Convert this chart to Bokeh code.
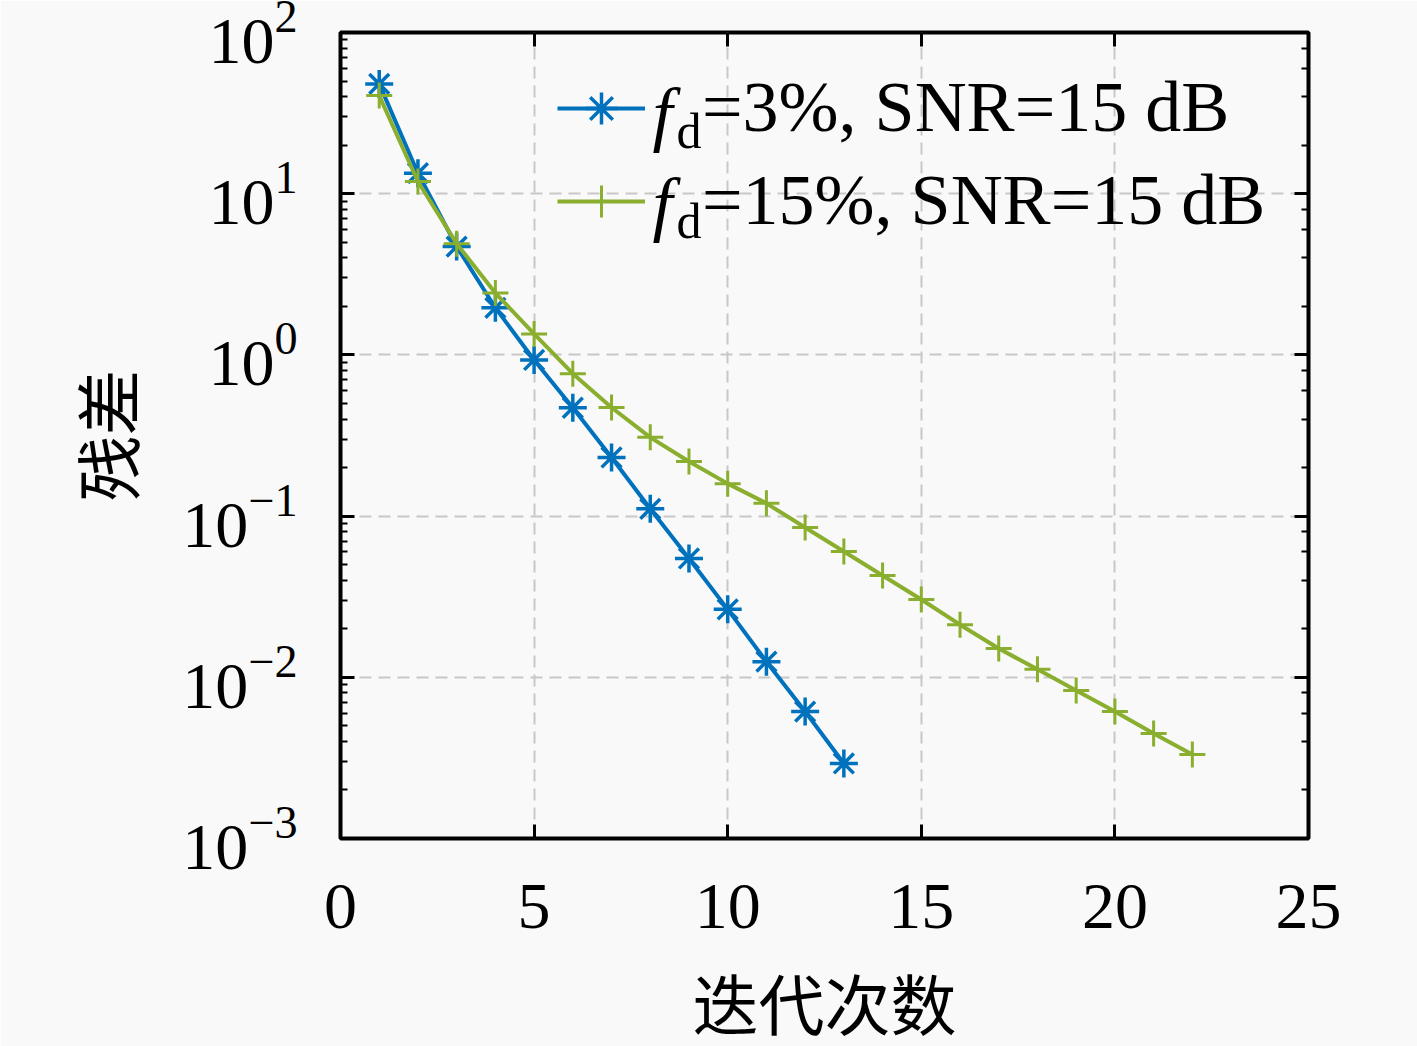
from bokeh.plotting import figure
from bokeh.models import (LogAxis, LinearAxis, FixedTicker, LogTicker, Legend,
                          LegendItem, Label, Range1d, CustomJSTickFormatter)
from bokeh.embed import file_html
from bokeh.resources import INLINE

# ---- data ----
iters_a = list(range(1, 14))
resid_a = [48.0, 13.4, 4.7, 1.96, 0.93, 0.47, 0.231, 0.111, 0.0546, 0.0264,
           0.0125, 0.00613, 0.00292]
iters_b = list(range(1, 23))
resid_b = [40.6, 11.9, 4.9, 2.42, 1.35, 0.765, 0.472, 0.308, 0.218, 0.159,
           0.120, 0.0849, 0.0603, 0.0428, 0.0304, 0.0212, 0.0151, 0.0112,
           0.00828, 0.00613, 0.00448, 0.00332]
x_ticks = [0, 5, 10, 15, 20, 25]
label_a = "=3%, SNR=15 dB"
label_b = "=15%, SNR=15 dB"
x_label = "迭代次数"
y_label = "残差"

BLUE = "#0072BD"
GREEN = "#8AAE2E"
BG = "#f9f9f9"
SERIF = "Liberation Serif"
CJK = "Noto Sans CJK SC"
CJK_STACK = "Liberation Serif, Noto Sans CJK SC"
FS = "66px"
LFS = "72px"

p = figure(width=1417, height=1046, x_range=Range1d(0, 25),
           y_range=Range1d(1e-3, 1e2), y_axis_type="log",
           output_backend="svg", toolbar_location=None,
           min_border_left=340, min_border_right=109,
           min_border_top=32, min_border_bottom=208)
p.background_fill_color = BG
p.border_fill_color = BG
p.outline_line_color = "black"
p.outline_line_width = 4

# grid
for g in (p.xgrid, p.ygrid):
    g.grid_line_color = "#c8c8c8"
    g.grid_line_width = 2
    g.grid_line_dash = "12 7"
p.xgrid.ticker = FixedTicker(ticks=x_ticks)

# bottom axis
xa = p.xaxis[0]
xa.ticker = FixedTicker(ticks=x_ticks)
xa.axis_label = x_label
xa.axis_label_text_font = CJK_STACK
xa.axis_label_text_font_size = FS
xa.axis_label_text_font_style = "normal"
xa.axis_label_standoff = 40
xa.major_label_text_font = SERIF
xa.major_label_text_font_size = FS
xa.major_label_standoff = 46

# left axis
ya = p.yaxis[0]
ya.axis_label = y_label
ya.axis_label_text_font = CJK
ya.axis_label_text_font_size = FS
ya.axis_label_text_font_style = "normal"
ya.axis_label_standoff = 26
ya.major_label_text_font = SERIF
ya.major_label_text_font_size = FS
ya.major_label_standoff = 43

for ax in (xa, ya):
    ax.axis_line_color = None
    ax.major_tick_in = 14
    ax.major_tick_out = 0
    ax.major_tick_line_width = 3
    ax.major_tick_line_color = "black"
    ax.minor_tick_in = 7
    ax.minor_tick_out = 0
    ax.minor_tick_line_width = 2
    ax.major_label_text_color = "black"
    ax.axis_label_text_color = "black"
xa.minor_tick_line_color = None

# mirrored axes (ticks only, no labels)
blank = CustomJSTickFormatter(code="return ''")
top = LinearAxis(ticker=FixedTicker(ticks=x_ticks), formatter=blank)
right = LogAxis(ticker=LogTicker(), formatter=blank)
for ax in (top, right):
    ax.axis_line_color = None
    ax.major_tick_in = 14
    ax.major_tick_out = 0
    ax.major_tick_line_width = 3
    ax.minor_tick_in = 7
    ax.minor_tick_out = 0
    ax.minor_tick_line_width = 2
    ax.major_label_standoff = 0
top.minor_tick_line_color = None
p.add_layout(top, "above")
p.add_layout(right, "right")

# series
la = p.line(iters_a, resid_a, line_color=BLUE, line_width=4)
sa = p.scatter(iters_a, resid_a, marker="asterisk", size=28,
               line_color=BLUE, line_width=3.5)
lb = p.line(iters_b, resid_b, line_color=GREEN, line_width=4)
sb = p.scatter(iters_b, resid_b, marker="cross", size=26,
               line_color=GREEN, line_width=3)

legend = Legend(items=[LegendItem(label=label_a, renderers=[la, sa]),
                       LegendItem(label=label_b, renderers=[lb, sb])],
                location=(217, 596), orientation="vertical",
                glyph_width=88, glyph_height=80, label_height=80,
                spacing=10, padding=0, margin=0, label_standoff=57,
                border_line_color=None, background_fill_alpha=0,
                label_text_font=SERIF, label_text_font_size=LFS,
                label_text_color="black")
p.add_layout(legend)

# italic f with subscript d in front of each legend label
for ym in (725, 635):
    p.add_layout(Label(x=312, y=ym, x_units="screen", y_units="screen",
                       text="f", text_font=SERIF, text_font_style="italic",
                       text_font_size=LFS, text_baseline="middle",
                       text_color="black"))
    p.add_layout(Label(x=336, y=ym - 17, x_units="screen", y_units="screen",
                       text="d", text_font=SERIF, text_font_size="50px",
                       text_baseline="middle", text_color="black"))

open("out.html", "w").write(file_html(p, INLINE))
